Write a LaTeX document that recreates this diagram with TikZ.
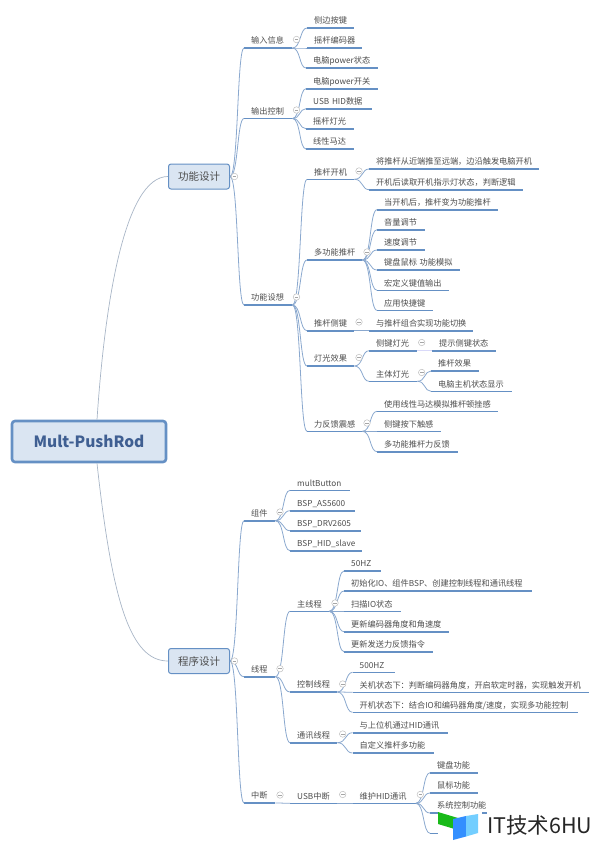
\documentclass[tikz,border=0pt]{standalone}
\usepackage{fontspec}
\setmainfont{Noto Sans CJK SC}
\usepackage{xcolor}
\usetikzlibrary{calc}

\definecolor{barblue}{HTML}{6590C4}
\definecolor{linkblue}{HTML}{8AA8CE}
\definecolor{rootgray}{HTML}{A8B5C6}
\definecolor{boxfill}{HTML}{DAE5F2}
\definecolor{rootink}{HTML}{3F5F92}
\definecolor{ink}{HTML}{4D4D4D}

\begin{document}
\begin{tikzpicture}[
  x=1pt, y=-1pt,
  root/.style={rectangle, rounded corners=3pt, draw=barblue, line width=2.6pt, fill=boxfill, minimum width=154pt, minimum height=41pt, text=rootink, font=\fontsize{15.5}{18}\selectfont\bfseries},
  mainbox/.style={rectangle, rounded corners=2.5pt, draw=barblue, line width=1pt, fill=boxfill, minimum width=61pt, minimum height=25pt, text=ink, font=\fontsize{10.5}{12}\selectfont},
  topic/.style={anchor=south west, inner xsep=7pt, inner ysep=0pt, text width=#1pt-14pt, align=left, text height=8pt, text depth=4pt, text=ink, font=\fontsize{8.2}{10}\selectfont,
    append after command={\pgfextra{\draw[barblue, line width=1.6pt] (\tikzlastnode.south west) -- (\tikzlastnode.south east);}}},
  fold/.style={circle, draw=black!25, line width=0.5pt, fill=white, minimum size=6.5pt, inner sep=0pt,
    path picture={\draw[black!35, line width=0.5pt] ([xshift=-1.8pt]path picture bounding box.center) -- ([xshift=1.8pt]path picture bounding box.center);}},
  rootedge/.style={rootgray, line width=0.7pt},
  branch/.style={linkblue, line width=0.8pt, to path={let \p1=(\tikztostart), \p2=(\tikztotarget) in .. controls ({\x1+0.6*(\x2-\x1)},\y1) and ({\x1+0.5*(\x2-\x1)},\y2) .. (\tikztotarget)}}
]
  \useasboundingbox (0,0) rectangle (600,844);

  % centre and the two main boxes
  \node[root] (rod) at (89,441.5) {Mult-PushRod};
  \node[mainbox] (func) at (199,176.5) {功能设计};
  \node[mainbox] (prog) at (199,661) {程序设计};
  \draw[rootedge] ([xshift=8pt]rod.north) .. controls (105,300) and (125,176.5) .. (func.west);
  \draw[rootedge] ([xshift=8pt]rod.south) .. controls (112,600) and (130,661) .. (prog.west);

  % function side, second level
  \node[topic=48] (input) at (244,48) {输入信息};
  \node[topic=48] (output) at (244,118.5) {输出控制};
  \node[topic=48] (idea) at (244,305) {功能设想};

  % input and output
  \node[topic=47] (sidekey) at (307,28) {侧边按键};
  \node[topic=55] (encoder) at (307,48) {摇杆编码器};
  \node[topic=72] (pcstate) at (306,68) {电脑power状态};
  \node[topic=72] (pcswitch) at (306,88.7) {电脑power开关};
  \node[topic=66] (usbdata) at (306,108.7) {USB HID数据};
  \node[topic=48] (rodlight) at (306,128.7) {摇杆灯光};
  \node[topic=48] (motor) at (306,149) {线性马达};

  % ideas
  \node[topic=47] (poweron) at (307,179.3) {推杆开机};
  \node[topic=55] (multirod) at (307,260) {多功能推杆};
  \node[topic=47] (rodkey) at (307,330.7) {推杆侧键};
  \node[topic=47] (lights) at (307,366) {灯光效果};
  \node[topic=55] (feel) at (307,431.3) {力反馈震感};

  \node[topic=170] (pushon) at (369,169) {将推杆从近端推至远端，边沿触发电脑开机};
  \node[topic=154] (readled) at (369,189.7) {开机后读取开机指示灯状态，判断逻辑};
  \node[topic=121] (becomes) at (377,209.7) {当开机后，推杆变为功能推杆};
  \node[topic=48] (volume) at (377,229.7) {音量调节};
  \node[topic=48] (speed) at (377,250) {速度调节};
  \node[topic=83] (mouse) at (377,270) {键盘鼠标 功能模拟};
  \node[topic=72] (macro) at (377,290.3) {宏定义键值输出};
  \node[topic=56] (hotkey) at (377,310.3) {应用快捷键};
  \node[topic=104] (combo) at (369,330.7) {与推杆组合实现功能切换};
  \node[topic=48] (sidelight) at (369,350.7) {侧键灯光};
  \node[topic=48] (mainlight) at (369,381.3) {主体灯光};
  \node[topic=64] (showkey) at (432,350.7) {提示侧键状态};
  \node[topic=48] (rodeffect) at (431,371) {推杆效果};
  \node[topic=81] (hoststate) at (431,391.3) {电脑主机状态显示};
  \node[topic=121] (detent) at (377,411.3) {使用线性马达模拟推杆顿挫感};
  \node[topic=64] (touch) at (377,431.3) {侧键按下触感};
  \node[topic=81] (rodforce) at (377,451.7) {多功能推杆力反馈};

  % program side, second level
  \node[topic=31] (parts) at (244,520.7) {组件};
  \node[topic=31] (threads) at (244,676.7) {线程};
  \node[topic=31] (irq) at (244,803) {中断};

  \node[topic=60] (multbtn) at (290,490.3) {multButton};
  \node[topic=65] (as) at (290,510.7) {BSP\_AS5600};
  \node[topic=71] (drv) at (290,530.7) {BSP\_DRV2605};
  \node[topic=72] (hid) at (290,550.7) {BSP\_HID\_slave};

  \node[topic=39] (mainth) at (290,611.3) {主线程};
  \node[topic=47] (ctrlth) at (290,692) {控制线程};
  \node[topic=47] (commth) at (290,742.7) {通讯线程};
  \node[topic=47] (usbirq) at (290,803.3) {USB中断};

  \node[topic=37] (hz50) at (344,571) {50HZ};
  \node[topic=188] (init) at (344,591) {初始化IO、组件BSP、创建控制线程和通讯线程};
  \node[topic=57] (scan) at (344,611.3) {扫描IO状态};
  \node[topic=105] (update) at (344,631.7) {更新编码器角度和角速度};
  \node[topic=89] (send) at (344,651.7) {更新发送力反馈指令};
  \node[topic=42] (hz500) at (352.5,672.3) {500HZ};
  \node[topic=236] (offstate) at (352.5,692.3) {关机状态下：判断编码器角度，开启软定时器，实现触发开机};
  \node[topic=225] (onstate) at (352.5,712.3) {开机状态下：结合IO和编码器角度/速度，实现多功能控制};
  \node[topic=95] (host) at (352.5,732.7) {与上位机通过HID通讯};
  \node[topic=81] (custom) at (352.5,753) {自定义推杆多功能};
  \node[topic=63] (keephid) at (352.5,803.3) {维护HID通讯};
  \node[topic=48] (keyboard) at (430,772.7) {键盘功能};
  \node[topic=48] (mousefn) at (430,793) {鼠标功能};
  \node[topic=57] (sysctrl) at (430,813) {系统控制功能};
  \node[topic=48] (hidden) at (430,833.3) {};

  % links
  \draw[branch] (func.east) to (input.south west);
  \draw[branch] (func.east) to (output.south west);
  \draw[branch] (func.east) to (idea.south west);
  \draw[branch] (input.south east) to (sidekey.south west);
  \draw[branch] (input.south east) to (encoder.south west);
  \draw[branch] (input.south east) to (pcstate.south west);
  \draw[branch] (output.south east) to (pcswitch.south west);
  \draw[branch] (output.south east) to (usbdata.south west);
  \draw[branch] (output.south east) to (rodlight.south west);
  \draw[branch] (output.south east) to (motor.south west);
  \draw[branch] (idea.south east) to (poweron.south west);
  \draw[branch] (idea.south east) to (multirod.south west);
  \draw[branch] (idea.south east) to (rodkey.south west);
  \draw[branch] (idea.south east) to (lights.south west);
  \draw[branch] (idea.south east) to (feel.south west);
  \draw[branch] (poweron.south east) to (pushon.south west);
  \draw[branch] (poweron.south east) to (readled.south west);
  \draw[branch] (multirod.south east) to (becomes.south west);
  \draw[branch] (multirod.south east) to (volume.south west);
  \draw[branch] (multirod.south east) to (speed.south west);
  \draw[branch] (multirod.south east) to (mouse.south west);
  \draw[branch] (multirod.south east) to (macro.south west);
  \draw[branch] (multirod.south east) to (hotkey.south west);
  \draw[branch] (rodkey.south east) to (combo.south west);
  \draw[branch] (lights.south east) to (sidelight.south west);
  \draw[branch] (lights.south east) to (mainlight.south west);
  \draw[branch, black!15!blue!15] (sidelight.south east) to (showkey.south west);
  \draw[branch] (mainlight.south east) to (rodeffect.south west);
  \draw[branch] (mainlight.south east) to (hoststate.south west);
  \draw[branch] (feel.south east) to (detent.south west);
  \draw[branch] (feel.south east) to (touch.south west);
  \draw[branch] (feel.south east) to (rodforce.south west);
  \draw[branch] (prog.east) to (parts.south west);
  \draw[branch] (prog.east) to (threads.south west);
  \draw[branch] (prog.east) to (irq.south west);
  \draw[branch] (parts.south east) to (multbtn.south west);
  \draw[branch] (parts.south east) to (as.south west);
  \draw[branch] (parts.south east) to (drv.south west);
  \draw[branch] (parts.south east) to (hid.south west);
  \draw[branch] (threads.south east) to (mainth.south west);
  \draw[branch] (threads.south east) to (ctrlth.south west);
  \draw[branch] (threads.south east) to (commth.south west);
  \draw[branch] (irq.south east) to (usbirq.south west);
  \draw[branch] (mainth.south east) to (hz50.south west);
  \draw[branch] (mainth.south east) to (init.south west);
  \draw[branch] (mainth.south east) to (scan.south west);
  \draw[branch] (mainth.south east) to (update.south west);
  \draw[branch] (mainth.south east) to (send.south west);
  \draw[branch] (ctrlth.south east) to (hz500.south west);
  \draw[branch] (ctrlth.south east) to (offstate.south west);
  \draw[branch] (ctrlth.south east) to (onstate.south west);
  \draw[branch] (commth.south east) to (host.south west);
  \draw[branch] (commth.south east) to (custom.south west);
  \draw[branch] (usbirq.south east) to (keephid.south west);
  \draw[branch] (keephid.south east) to (keyboard.south west);
  \draw[branch] (keephid.south east) to (mousefn.south west);
  \draw[branch] (keephid.south east) to (sysctrl.south west);
  \draw[branch] (keephid.south east) to (hidden.south west);

  % fold marks
  \node[fold] (ffunc) at (234.5,176.5) {};
  \node[fold] (fprog) at (234.5,661) {};
  \node[fold] (finput) at (296.5,39.5) {};
  \node[fold] (foutput) at (296.5,110) {};
  \node[fold] (fidea) at (296.5,297) {};
  \node[fold] (fpoweron) at (359,171) {};
  \node[fold] (fmultirod) at (367,252) {};
  \node[fold] (frodkey) at (359,322) {};
  \node[fold] (flights) at (359,357.5) {};
  \node[fold] (fsidelight) at (421.7,342.5) {};
  \node[fold] (fmainlight) at (421.7,372.5) {};
  \node[fold] (ffeel) at (367,423) {};
  \node[fold] (fparts) at (280,512) {};
  \node[fold] (fthreads) at (280,668.7) {};
  \node[fold] (firq) at (280,795) {};
  \node[fold] (fmainth) at (335,603) {};
  \node[fold] (fctrlth) at (342.7,684) {};
  \node[fold] (fcommth) at (342.7,734) {};
  \node[fold] (fusbirq) at (342.7,794.5) {};
  \node[fold] (fkeephid) at (420.3,794.5) {};

  % watermark
  \fill[white] (438,810.5) rectangle (482,844);
  \fill[green!70!black!90] (438,812) -- (458,818) -- (458,830) -- (438,824) -- cycle;
  \fill[blue!55!cyan!80] (453,819) -- (466,816) -- (466,836.5) -- (453,840) -- cycle;
  \fill[blue!35!cyan!55] (466,816) -- (478,814) -- (478,833) -- (466,836.5) -- cycle;
  \node[inner sep=0pt, anchor=west, text=black!85, font=\fontsize{21.5}{24}\selectfont] (mark) at (487,825) {IT技术6HU};
\end{tikzpicture}
\end{document}
